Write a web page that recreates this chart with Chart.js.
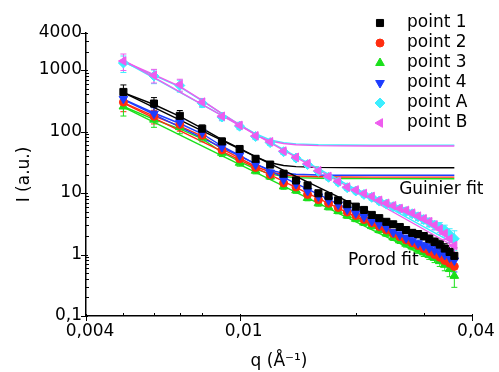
<!DOCTYPE html>
<html>
<head>
<meta charset="utf-8">
<script src="https://cdn.jsdelivr.net/npm/chart.js@4"></script>
<style>
  html, body { margin: 0; padding: 0; background: #fff; }
  #wrap { width: 499px; height: 372px; }
</style>
</head>
<body>
<div id="wrap"><canvas id="saxsChart" width="499" height="372"></canvas></div>
<script>
// Scattering vector q (1/Angstrom)
const q = [0.005, 0.006, 0.007, 0.008, 0.009, 0.010, 0.011, 0.012, 0.013, 0.014, 0.015,
           0.016, 0.017, 0.018, 0.019, 0.020, 0.021, 0.022, 0.023, 0.024, 0.025, 0.026,
           0.027, 0.028, 0.029, 0.030, 0.031, 0.032, 0.033, 0.034, 0.035, 0.036];

// Intensities (a.u.)
const point1 = [440, 285, 180, 111, 69, 52, 36, 29, 20.6, 16, 13.3, 9.9, 8.9, 7.6, 6.6, 6.0,
                5.3, 4.4, 3.9, 3.4, 3.1, 2.8, 2.5, 2.25, 2.15, 2.0, 1.8, 1.6, 1.45, 1.25, 1.1, 0.95];
const point2 = [300, 177, 130, 87, 50, 36, 26, 20, 14.5, 12.5, 9.5, 7.8, 6.8, 5.8, 4.9, 4.3,
                3.7, 3.25, 2.85, 2.5, 2.2, 1.95, 1.72, 1.55, 1.4, 1.25, 1.12, 1.0, 0.9, 0.8, 0.72, 0.64];
const point3 = [255, 156, 118, 80, 45, 31, 23, 18.5, 12.8, 11, 8.3, 6.8, 5.9, 5.1, 4.3, 3.8,
                3.3, 2.9, 2.5, 2.2, 1.9, 1.7, 1.5, 1.35, 1.2, 1.08, 0.98, 0.88, 0.78, 0.68, 0.58, 0.45];
const point4 = [340, 195, 141, 96, 56, 41, 29, 21.5, 16.5, 14, 10.8, 8.8, 7.6, 6.5, 5.4, 4.7,
                4.1, 3.5, 3.1, 2.75, 2.3, 2.1, 1.85, 1.68, 1.52, 1.38, 1.27, 1.17, 1.07, 0.98, 0.89, 0.8];
const pointA = [1300, 800, 560, 290, 172, 122, 83, 66, 47, 37, 29, 22.5, 18, 15, 12.2, 10.8,
                9.5, 8.5, 7.4, 6.6, 6.0, 5.5, 5.0, 4.6, 4.1, 3.7, 3.3, 3.0, 2.8, 2.5, 2.1, 1.8];
const pointB = [1400, 820, 580, 300, 177, 126, 85, 68, 48, 38, 30, 23, 18.6, 15.5, 12.5, 11.2,
                9.8, 8.8, 7.6, 6.8, 6.2, 5.6, 5.2, 4.7, 4.2, 3.8, 3.4, 3.0, 2.6, 2.2, 1.8, 1.4];

// Relative error of each q point
const relErr = [0.3, 0.25, 0.22, 0.15, 0.13, 0.12, 0.11, 0.1, 0.1, 0.1, 0.1, 0.1, 0.1, 0.1, 0.1, 0.1,
                0.1, 0.1, 0.1, 0.1, 0.11, 0.11, 0.12, 0.12, 0.13, 0.14, 0.15, 0.16, 0.18, 0.2, 0.25, 0.35];

// Guinier fit curves (sampled)
const guinierQ = [0.005, 0.006, 0.007, 0.008, 0.009, 0.010, 0.011, 0.012, 0.013, 0.014, 0.016, 0.018, 0.022, 0.036];
const guinier1 = [430, 275, 176, 112, 74, 53, 39, 31, 28, 26.9, 26.1, 25.9, 25.82, 25.8];
const guinier2 = [295, 178, 122, 84, 52, 37, 27, 22, 19.8, 18.9, 18.4, 18.2, 18.12, 18.1];
const guinier3 = [255, 158, 110, 76, 46, 32.5, 24.5, 20.5, 18.6, 17.8, 17.35, 17.2, 17.12, 17.1];
const guinier4 = [335, 200, 135, 92, 58, 41, 29.5, 23.5, 21, 20.2, 19.6, 19.5, 19.42, 19.4];
const guinierA = [1350, 820, 530, 315, 195, 130, 92, 73, 66, 63, 61, 60.4, 60.1, 60];
const guinierB = [1400, 840, 540, 320, 195, 128, 88, 70, 64, 61, 59, 58.4, 58.1, 58];

// Porod fit lines (power laws, end points)
const porodQ = [0.005, 0.036];
const porod1 = [430, 1.05];
const porod2 = [290, 0.68];
const porod3 = [250, 0.55];
const porod4 = [330, 0.8];
const porodA = [1400, 1.5];
const porodB = [1450, 1.35];

// Axis ticks
const xMajorTicks = [0.004, 0.01, 0.04];
const xTickLabels = ['0,004', '0,01', '0,04'];
const xMinorTicks = [0.005, 0.006, 0.007, 0.008, 0.02, 0.03];
const yMajorTicks = [0.1, 1, 10, 100, 1000, 4000];
const yTickLabels = ['0,1', '1', '10', '100', '1000', '4000'];
const yMinorTicks = [0.2, 0.3, 0.4, 0.5, 0.6, 0.7, 0.8, 0.9, 2, 3, 4, 5, 6, 7, 8, 9,
                     20, 30, 40, 50, 60, 70, 80, 90, 200, 300, 400, 500, 600, 700, 800, 900, 2000, 3000];

const FONT = 'DejaVu Sans';

const series = [
    { label: 'point 1', values: point1, guinier: guinier1, porod: porod1, color: '#000000', style: 'rect', rotation: 0, radius: 5, order: 3 },
    { label: 'point 2', values: point2, guinier: guinier2, porod: porod2, color: '#ff2d10', style: 'circle', rotation: 0, radius: 4, order: 5 },
    { label: 'point 3', values: point3, guinier: guinier3, porod: porod3, color: '#1be01b', style: 'triangle', rotation: 0, radius: 5, order: 6 },
    { label: 'point 4', values: point4, guinier: guinier4, porod: porod4, color: '#1d3cff', style: 'triangle', rotation: 180, radius: 5, order: 4 },
    { label: 'point A', values: pointA, guinier: guinierA, porod: porodA, color: '#3deeff', style: 'rectRot', rotation: 0, radius: 5, order: 2 },
    { label: 'point B', values: pointB, guinier: guinierB, porod: porodB, color: '#ee5cee', style: 'triangle', rotation: 270, radius: 5, order: 1 }
];

const datasets = [];
series.forEach(s => {
    datasets.push({
        label: s.label,
        data: q.map((x, i) => ({ x: x, y: s.values[i] })),
        showLine: false,
        pointStyle: s.style,
        rotation: s.rotation,
        pointRadius: s.radius,
        borderWidth: 1,
        borderColor: s.color,
        backgroundColor: s.color,
        order: s.order,
        errors: relErr,
        isData: true
    });
    datasets.push({
        label: s.label + ' Guinier',
        data: guinierQ.map((x, i) => ({ x: x, y: s.guinier[i] })),
        showLine: true,
        pointRadius: 0,
        borderWidth: 1.4,
        borderColor: s.color,
        order: s.order + 10
    });
    datasets.push({
        label: s.label + ' Porod',
        data: porodQ.map((x, i) => ({ x: x, y: s.porod[i] })),
        showLine: true,
        pointRadius: 0,
        borderWidth: 1.4,
        borderColor: s.color,
        order: s.order + 10
    });
});

// Vertical error bars with caps, drawn below the markers
const errorBars = {
    id: 'errorBars',
    beforeDatasetsDraw(chart) {
        const ctx = chart.ctx;
        const y = chart.scales.y;
        ctx.save();
        chart.data.datasets.forEach((ds, di) => {
            if (!ds.isData) return;
            const meta = chart.getDatasetMeta(di);
            ctx.strokeStyle = ds.borderColor;
            ctx.lineWidth = 1;
            meta.data.forEach((pt, i) => {
                const v = ds.data[i].y;
                const e = v * ds.errors[i];
                const top = y.getPixelForValue(v + e);
                const bot = y.getPixelForValue(Math.max(v - e, 0.01));
                ctx.beginPath();
                ctx.moveTo(pt.x, top);
                ctx.lineTo(pt.x, bot);
                ctx.moveTo(pt.x - 3, top);
                ctx.lineTo(pt.x + 3, top);
                ctx.moveTo(pt.x - 3, bot);
                ctx.lineTo(pt.x + 3, bot);
                ctx.stroke();
            });
        });
        ctx.restore();
    }
};

// Tick marks, legend and fit labels
const decorations = {
    id: 'decorations',
    afterDraw(chart) {
        const ctx = chart.ctx;
        const xs = chart.scales.x;
        const ys = chart.scales.y;
        const area = chart.chartArea;
        ctx.save();
        ctx.strokeStyle = '#000';
        ctx.lineWidth = 1;
        ctx.beginPath();
        xMajorTicks.forEach(v => {
            const px = Math.round(xs.getPixelForValue(v)) + 0.5;
            ctx.moveTo(px, area.bottom - 2);
            ctx.lineTo(px, area.bottom + 5);
        });
        xMinorTicks.forEach(v => {
            const px = Math.round(xs.getPixelForValue(v)) + 0.5;
            ctx.moveTo(px, area.bottom);
            ctx.lineTo(px, area.bottom - 3);
        });
        yMajorTicks.forEach(v => {
            const py = Math.round(ys.getPixelForValue(v)) + 0.5;
            ctx.moveTo(area.left - 5, py);
            ctx.lineTo(area.left + 2, py);
        });
        yMinorTicks.forEach(v => {
            const py = Math.round(ys.getPixelForValue(v)) + 0.5;
            ctx.moveTo(area.left, py);
            ctx.lineTo(area.left + 3, py);
        });
        ctx.stroke();

        // legend
        ctx.font = '17px "' + FONT + '"';
        ctx.textBaseline = 'middle';
        ctx.textAlign = 'left';
        series.forEach((s, i) => {
            const ly = 23 + i * 20;
            ctx.fillStyle = s.color;
            ctx.strokeStyle = s.color;
            ctx.lineWidth = 1;
            Chart.helpers.drawPoint(ctx, { pointStyle: s.style, rotation: s.rotation, radius: s.radius, borderWidth: 1 }, area.right - 92, ly);
            ctx.fillStyle = '#000';
            ctx.fillText(s.label, area.right - 65, ly);
        });

        // fit labels
        ctx.fillStyle = '#000';
        ctx.fillText('Guinier fit', xs.getPixelForValue(0.0259), ys.getPixelForValue(11.4));
        ctx.fillText('Porod fit', xs.getPixelForValue(0.0191), ys.getPixelForValue(0.8));
        ctx.restore();
    }
};

new Chart(document.getElementById('saxsChart'), {
    type: 'scatter',
    data: { datasets: datasets },
    options: {
        responsive: false,
        animation: false,
        layout: { padding: { top: 33, right: 27, left: 0, bottom: 0 } },
        plugins: {
            legend: { display: false },
            tooltip: { enabled: false }
        },
        scales: {
            x: {
                type: 'logarithmic',
                min: 0.004,
                max: 0.04,
                afterBuildTicks: s => { s.ticks = xMajorTicks.map(v => ({ value: v })); },
                afterFit: s => { s.height = 56; s.paddingLeft = 0; s.paddingRight = 0; },
                grid: { display: false, drawTicks: false },
                border: { display: true, color: '#000', width: 1.5 },
                ticks: {
                    autoSkip: false,
                    maxRotation: 0,
                    padding: 5,
                    labelOffset: 4,
                    color: '#000',
                    font: { family: FONT, size: 17 },
                    callback: (v, i) => xTickLabels[i]
                },
                title: {
                    display: true,
                    text: 'q (Å⁻¹)',
                    color: '#000',
                    font: { family: FONT, size: 17 },
                    padding: { top: 0, bottom: 0 }
                }
            },
            y: {
                type: 'logarithmic',
                min: 0.1,
                max: 4000,
                afterBuildTicks: s => { s.ticks = yMajorTicks.map(v => ({ value: v })); },
                afterFit: s => { s.width = 86; s.paddingTop = 0; s.paddingBottom = 0; },
                grid: { display: false, drawTicks: false },
                border: { display: true, color: '#000', width: 1.5 },
                ticks: {
                    autoSkip: false,
                    padding: 4,
                    color: '#000',
                    font: { family: FONT, size: 17 },
                    callback: (v, i) => yTickLabels[i]
                },
                title: {
                    display: true,
                    text: 'I (a.u.)',
                    color: '#000',
                    font: { family: FONT, size: 17 },
                    padding: { top: 14, bottom: 0 }
                }
            }
        }
    },
    plugins: [errorBars, decorations]
});
</script>
</body>
</html>
